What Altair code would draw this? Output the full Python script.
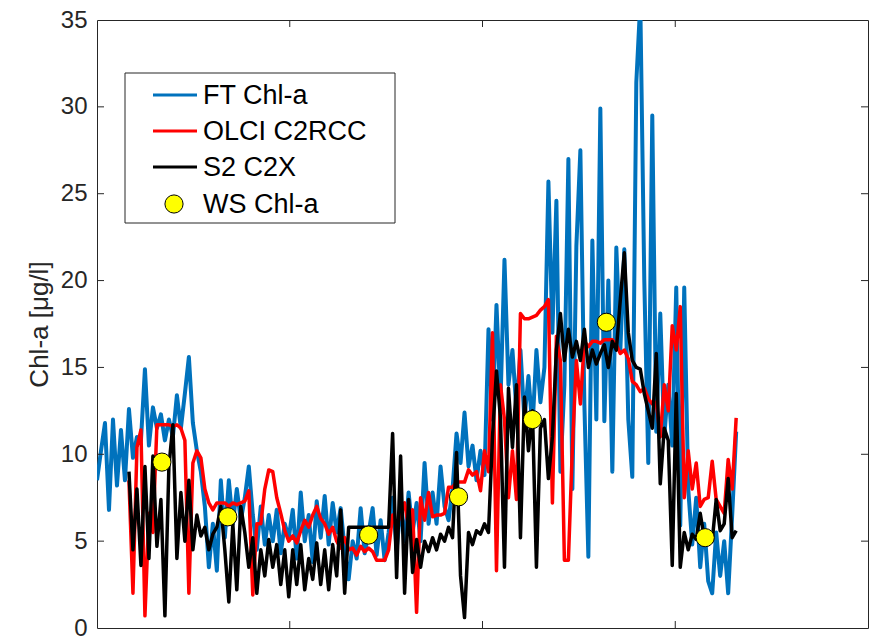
import altair as alt
import pandas as pd

# Chl-a time series, sampled every STEP index units
STEP = 4

ft_start = 0
ft_chl = [
    8.5, 10.2, 11.8, 6.8, 12.0, 8.2, 11.4, 8.5, 12.6, 9.8,
    11.0, 10.8, 14.9, 10.5, 12.7, 11.5, 12.3, 10.8, 12.0, 11.0,
    13.4, 11.5, 13.5, 15.6, 11.8, 10.2, 9.0, 7.0, 3.5, 6.0,
    3.3, 8.5, 5.2, 8.5, 6.0, 8.0, 6.2, 7.5, 9.3, 6.5,
    4.5, 7.0, 4.8, 6.5, 5.0, 6.8, 4.3, 6.0, 5.2, 6.8,
    4.0, 7.8, 5.0, 6.5, 3.8, 7.3, 5.2, 7.6, 4.8, 7.2,
    5.5, 6.9, 4.5, 2.8, 5.0, 4.0, 6.9, 4.3, 5.5, 6.9,
    4.2, 6.2, 3.9, 5.5, 7.5, 4.5, 7.0, 5.0, 7.8, 5.5,
    7.2, 5.0, 9.5, 6.0, 7.8, 6.0, 9.3, 7.0, 6.2, 8.0,
    11.2, 9.5, 12.4, 9.3, 10.5, 8.5, 10.2, 8.8, 17.2, 12.0,
    18.6, 13.0, 21.2, 14.0, 16.0, 12.5, 16.0, 12.0, 14.5, 11.5,
    16.0, 13.0, 15.0, 25.7, 17.0, 24.6, 9.0, 14.0, 27.0, 8.0,
    22.0, 27.5, 12.9, 4.1, 22.3, 12.0, 29.9, 11.9, 20.0, 9.0,
    21.9, 16.0, 21.8, 12.0, 8.7, 31.4, 36.0, 20.0, 9.5, 29.5,
    11.3, 18.1, 11.0, 14.0, 10.5, 19.6, 5.9, 19.6, 8.0, 4.8,
    7.5, 3.5, 6.0, 2.7, 2.0, 5.5, 3.0, 5.0, 2.0, 6.5,
    11.3,
]

olci_start = 32
olci_chl = [
    8.5, 2.0, 10.4, 11.4, 0.7, 6.6, 5.5, 11.7, 11.7, 11.7,
    11.7, 11.6, 11.7, 11.5, 10.8, 2.0, 9.5, 10.2, 9.8, 8.0,
    7.2, 6.8, 7.2, 7.2, 7.2, 7.0, 7.2, 7.1, 7.2, 7.3,
    7.9, 1.9, 6.0, 6.0, 8.0, 9.1, 9.0, 7.5, 6.6, 5.6,
    5.0, 5.3, 4.9, 5.6, 6.2, 5.8, 6.5, 7.0, 6.3, 6.0,
    5.4, 5.8, 5.0, 4.6, 5.2, 4.5, 4.6, 4.2, 4.7, 4.4,
    4.6, 4.4, 3.9, 3.9, 3.9, 4.5, 6.5, 5.8, 6.6, 7.2,
    5.8, 6.8, 0.9, 7.5, 6.2, 7.8, 6.4, 6.5, 6.5, 6.6,
    8.1, 8.1, 8.4, 8.4, 8.4, 9.1, 8.8, 9.0, 7.9, 10.2,
    9.0, 17.0, 3.3, 14.0, 12.0, 7.5, 10.2, 7.4, 18.1, 17.8,
    17.8, 17.9, 18.0, 18.3, 18.5, 18.9, 7.2, 16.8, 15.4, 3.9,
    3.9, 10.4, 15.4, 12.9, 16.5, 16.2, 16.5, 16.5, 16.4, 16.6,
    16.6, 16.6, 16.3, 15.8, 16.0, 15.5, 14.2, 14.0, 13.6, 13.8,
    13.2, 12.9, 13.0, 11.0, 14.0, 12.5, 17.4, 16.0, 18.5, 7.5,
    10.2, 8.0, 9.5, 7.0, 7.4, 7.5, 9.6, 7.4, 7.0, 6.6,
    9.7, 8.0, 12.1,
]

s2_start = 32
s2_chl = [
    9.0, 4.5, 8.0, 3.6, 9.3, 4.0, 9.9, 4.7, 7.4, 0.7,
    9.3, 11.7, 4.0, 7.8, 5.0, 8.5, 4.5, 6.5, 5.3, 5.8,
    4.5, 5.4, 5.8, 7.0, 4.5, 1.5, 6.0, 2.2, 7.0, 5.5,
    3.5, 5.2, 2.0, 4.5, 3.0, 5.1, 3.5, 4.8, 2.5, 4.5,
    1.8, 4.5, 2.5, 4.8, 2.2, 4.0, 2.8, 4.9, 2.5, 4.5,
    2.2, 4.8, 3.0, 6.8, 2.0, 5.8, 5.8, 5.8, 5.8, 5.8,
    5.8, 5.8, 5.8, 5.8, 5.8, 5.8, 11.2, 2.9, 9.9, 2.0,
    7.4, 3.2, 5.1, 3.5, 5.0, 4.4, 5.2, 4.5, 5.4, 5.0,
    5.8, 5.2, 10.1, 3.0, 0.6, 5.5, 4.8, 5.6, 5.4, 6.0,
    5.5, 11.0, 14.8, 12.1, 3.5, 13.8, 10.4, 14.0, 5.2, 13.3,
    10.2, 12.5, 3.5, 11.5, 12.0, 8.6, 11.0, 16.0, 18.1, 15.4,
    17.2, 15.6, 16.5, 15.4, 17.2, 15.0, 16.0, 15.2, 15.8, 16.3,
    15.0, 16.5, 16.0, 18.9, 21.6, 17.0, 15.4, 15.0, 14.9, 13.5,
    12.5, 11.5, 15.8, 8.3, 11.5, 10.8, 3.6, 13.5, 3.5, 5.5,
    4.5, 5.4, 5.1, 6.6, 5.2, 5.5, 5.0, 7.4, 5.6, 6.0,
    8.6, 5.2, 5.6,
]

# water-sample reference values
ws_t = [65, 131, 272, 362, 436, 510, 609]
ws_chl = [9.55, 6.4, 5.35, 7.55, 12.0, 17.6, 5.2]

series_names = ["FT Chl-a", "OLCI C2RCC", "S2 C2X", "WS Chl-a"]
series_colors = ["#0072BD", "#FF0000", "#000000", "#FFFF00"]
series_widths = [4, 3.5, 3.5]

x_ticks = [193, 386, 579]
y_ticks = [0, 5, 10, 15, 20, 25, 30, 35]

W, H = 771, 608
AXIS_COLOR = "#262626"
FONT = "Liberation Sans"


def frame(start, values, name):
    return pd.DataFrame({
        "t": [start + STEP * i for i in range(len(values))],
        "chl": values,
        "series": name,
    })


ft_df = frame(ft_start, ft_chl, series_names[0])
olci_df = frame(olci_start, olci_chl, series_names[1])
s2_df = frame(s2_start, s2_chl, series_names[2])
ws_df = pd.DataFrame({"t": ws_t, "chl": ws_chl})

x_scale = alt.Scale(domain=[0, 772], nice=False, zero=False)
y_scale = alt.Scale(domain=[0, 35], nice=False)

# one shared y axis definition so the layers merge into a single axis
y_axis = alt.Axis(
    values=y_ticks,
    title="Chl-a [μg/l]",
    ticks=False,
    grid=False,
    domain=False,
    labelPadding=10,
    labelFont=FONT,
    labelFontSize=24,
    labelColor=AXIS_COLOR,
    titleFont=FONT,
    titleFontSize=26,
    titleFontWeight="normal",
    titleColor=AXIS_COLOR,
    titleX=-58,
    titleY=H / 2,
    titleAlign="center",
    titleBaseline="middle",
    titleAngle=270,
)


def Y(field):
    return alt.Y(field, scale=y_scale, axis=y_axis)


def X(field):
    return alt.X(field, scale=x_scale, axis=None)


def line_layer(df, color, width):
    return alt.Chart(df).mark_line(
        color=color, strokeWidth=width, clip=True, strokeJoin="round"
    ).encode(x=X("t:Q"), y=Y("chl:Q"), order="t:Q")


# inward tick marks on all four sides
TL = 7
ytick_df = pd.DataFrame({"v": y_ticks[1:-1]})
xtick_df = pd.DataFrame({"v": x_ticks})
left_ticks = alt.Chart(ytick_df).mark_rule(color=AXIS_COLOR, strokeWidth=1).encode(
    y=Y("v:Q"), x=alt.value(0), x2=alt.value(TL))
right_ticks = alt.Chart(ytick_df).mark_rule(color=AXIS_COLOR, strokeWidth=1).encode(
    y=Y("v:Q"), x=alt.value(W - TL), x2=alt.value(W))
bottom_ticks = alt.Chart(xtick_df).mark_rule(color=AXIS_COLOR, strokeWidth=1).encode(
    x=X("v:Q"), y=alt.value(H - TL), y2=alt.value(H))
top_ticks = alt.Chart(xtick_df).mark_rule(color=AXIS_COLOR, strokeWidth=1).encode(
    x=X("v:Q"), y=alt.value(0), y2=alt.value(TL))

ws_points = alt.Chart(ws_df).mark_point(
    shape="circle", filled=True, fill=series_colors[3], stroke="#000000",
    strokeWidth=1, size=330, opacity=1,
).encode(x=X("t:Q"), y=Y("chl:Q"))

# legend box
LX0, LX1, LY0, LY1 = 28, 298, 53, 203
row_y = [75, 111, 147, 184]
legend_layers = [
    alt.Chart(pd.DataFrame({"k": [0]})).mark_rect(
        fill="white", stroke=AXIS_COLOR, strokeWidth=1
    ).encode(x=alt.value(LX0), x2=alt.value(LX1), y=alt.value(LY0), y2=alt.value(LY1))
]
for name, color, ry in zip(series_names[:3], series_colors[:3], row_y[:3]):
    legend_layers.append(
        alt.Chart(pd.DataFrame({"k": [0]})).mark_rule(color=color, strokeWidth=3).encode(
            x=alt.value(56), x2=alt.value(100), y=alt.value(ry), y2=alt.value(ry))
    )
legend_layers.append(
    alt.Chart(pd.DataFrame({"k": [0]})).mark_point(
        shape="circle", filled=True, fill=series_colors[3], stroke="#000000",
        strokeWidth=1, size=330, opacity=1,
    ).encode(x=alt.value(77), y=alt.value(row_y[3]))
)
for name, ry in zip(series_names, row_y):
    legend_layers.append(
        alt.Chart(pd.DataFrame({"label": [name]})).mark_text(
            align="left", baseline="middle", font=FONT, fontSize=27, color="#000000",
        ).encode(x=alt.value(106), y=alt.value(ry + 1), text="label:N")
    )

chart = alt.layer(
    line_layer(ft_df, series_colors[0], series_widths[0]),
    line_layer(olci_df, series_colors[1], series_widths[1]),
    line_layer(s2_df, series_colors[2], series_widths[2]),
    ws_points,
    left_ticks, right_ticks, bottom_ticks, top_ticks,
    *legend_layers,
).properties(
    width=W,
    height=H,
    autosize=alt.AutoSizeParams(type="none"),
    padding={"left": 97, "top": 20, "right": 1, "bottom": 10},
    background="white",
).configure_view(
    stroke=AXIS_COLOR, strokeWidth=1,
)

chart.save("out.html", embed_options={"renderer": "svg", "actions": False})
